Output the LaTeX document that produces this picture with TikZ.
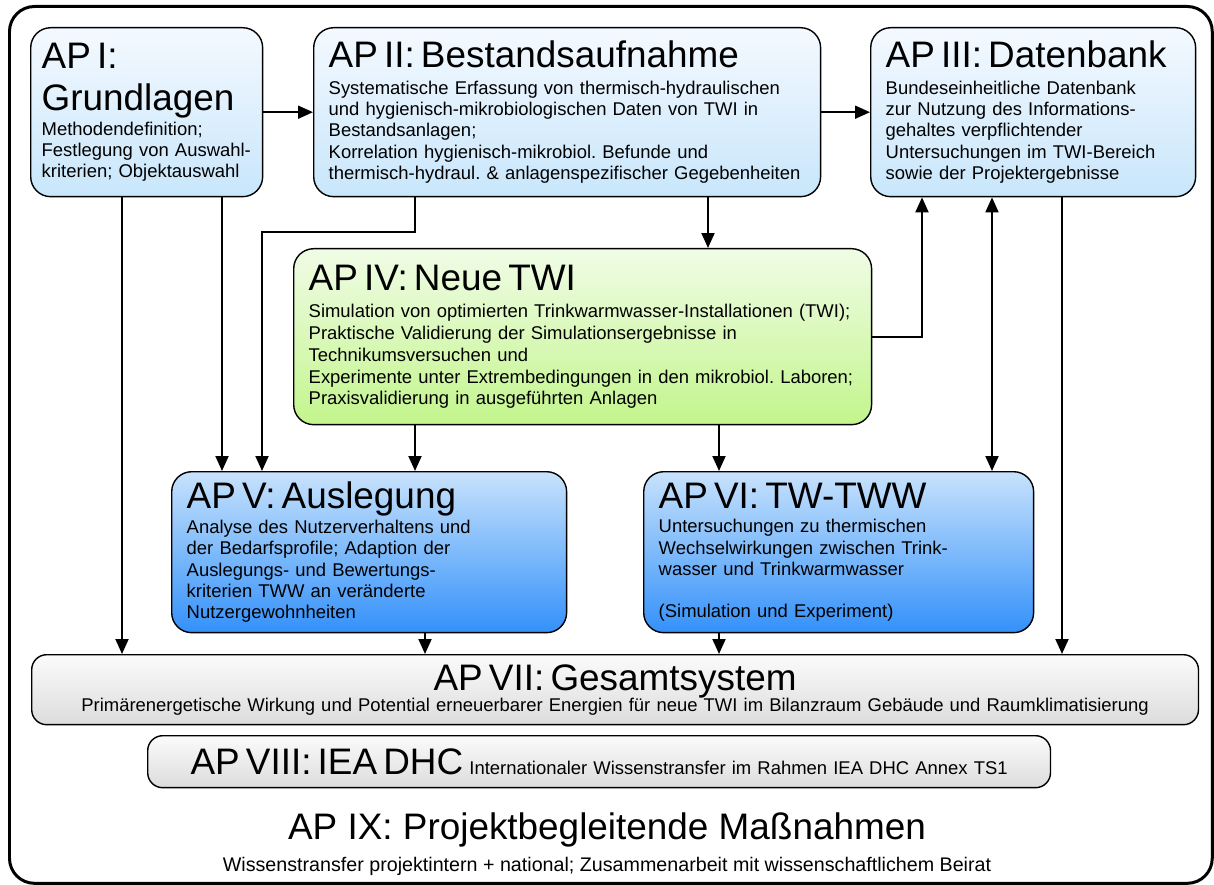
\documentclass[tikz,border=0pt]{standalone}
\usepackage{fontspec}
\setmainfont{Liberation Sans}
\usetikzlibrary{arrows.meta,positioning,calc}
\definecolor{aphelloben}{HTML}{F4F9FF}
\definecolor{aphellunten}{HTML}{C8E6FB}
\definecolor{apblauoben}{HTML}{C8E2FC}
\definecolor{apblauunten}{HTML}{3391FA}
\definecolor{apgruenoben}{HTML}{F0FCE6}
\definecolor{apgruenunten}{HTML}{C3F58C}
\definecolor{apgrauoben}{HTML}{FBFBFB}
\definecolor{apgrauunten}{HTML}{DCDCDC}
\newcommand{\aptitel}{\fontsize{21}{24}\selectfont}
\newcommand{\aptext}{\fontsize{10.5}{12.1}\selectfont}
\frenchspacing
\tikzset{
  ap/.style={draw=black, line width=0.8pt, rounded corners=0.4cm, anchor=north west, align=left, inner xsep=0.3cm, inner ysep=0pt, font=\aptext},
  hell/.style={ap, top color=aphelloben, bottom color=aphellunten},
  blau/.style={ap, top color=apblauoben, bottom color=apblauunten},
  gruen/.style={ap, top color=apgruenoben, bottom color=apgruenunten},
  grau/.style={ap, rounded corners=0.3cm, align=center, top color=apgrauoben, bottom color=apgrauunten},
  rahmen/.style={draw, line width=1.7pt, rounded corners=0.5cm, anchor=north west, inner sep=0pt},
  pfeil/.style={-{Triangle[length=3mm,width=2.6mm]}, line width=1.1pt},
  pfeil2/.style={{Triangle[length=3mm,width=2.6mm]}-{Triangle[length=3mm,width=2.6mm]}, line width=1.1pt},
}
\begin{document}
\begin{tikzpicture}[x=0.02cm, y=-0.02cm]
  \useasboundingbox (0,0) rectangle (1214,885);
  \node[rahmen, minimum width=24.06cm, minimum height=17.54cm] (rahmen) at (8,5) {};
  % obere Reihe
  \node[hell, inner xsep=0.22cm, minimum width=4.64cm, minimum height=3.38cm, text width=4.2cm] (ap1) at (30,27)
    {\aptitel AP I:\\Grundlagen\par\aptext\vspace{2pt}Methodendefinition;\\Festlegung von Auswahl-\\kriterien; Objektauswahl};
  \node[hell, minimum width=10.14cm, minimum height=3.38cm, text width=9.54cm] (ap2) at (313,27)
    {\aptitel AP II: Bestandsaufnahme\par\aptext\vspace{3pt}Systematische Erfassung von thermisch-hydraulischen\\und hygienisch-mikrobiologischen Daten von TWI in\\Bestandsanlagen;\\Korrelation hygienisch-mikrobiol. Befunde und\\thermisch-hydraul. \& anlagenspezifischer Gegebenheiten};
  \node[hell, minimum width=6.5cm, minimum height=3.38cm, text width=5.9cm] (ap3) at (870,27)
    {\aptitel AP III: Datenbank\par\aptext\vspace{3pt}Bundeseinheitliche Datenbank\\zur Nutzung des Informations-\\gehaltes verpflichtender\\Untersuchungen im TWI-Bereich\\sowie der Projektergebnisse};
  % mitte
  \node[gruen, minimum width=11.56cm, minimum height=3.52cm, text width=10.96cm] (ap4) at (293,248)
    {\aptitel AP IV: Neue TWI\par\fontsize{10.5}{12.5}\selectfont\vspace{3pt}Simulation von optimierten Trinkwarmwasser-Installationen (TWI);\\Praktische Validierung der Simulationsergebnisse in\\Technikumsversuchen und\\Experimente unter Extrembedingungen in den mikrobiol. Laboren;\\Praxisvalidierung in ausgeführten Anlagen};
  \node[blau, minimum width=7.9cm, minimum height=3.22cm, text width=7.3cm] (ap5) at (171,471)
    {\aptitel AP V: Auslegung\par\aptext\vspace{2pt}Analyse des Nutzerverhaltens und\\der Bedarfsprofile; Adaption der\\Auslegungs- und Bewertungs-\\kriterien TWW an veränderte\\Nutzergewohnheiten};
  \node[blau, minimum width=7.8cm, minimum height=3.22cm, text width=7.2cm] (ap6) at (643,471)
    {\aptitel AP VI: TW-TWW\par\aptext\vspace{2pt}Untersuchungen zu thermischen\\Wechselwirkungen zwischen Trink-\\wasser und Trinkwarmwasser\\[12pt](Simulation und Experiment)};
  % untere Reihe
  \node[grau, minimum width=23.34cm, minimum height=1.4cm, text width=22.74cm] (ap7) at (31,654)
    {\aptitel AP VII: Gesamtsystem\par\aptext Primärenergetische Wirkung und Potential erneuerbarer Energien für neue TWI im Bilanzraum Gebäude und Raumklimatisierung};
  \node[grau, minimum width=18.06cm, minimum height=1.04cm, text width=17.46cm] (ap8) at (147,735)
    {{\aptitel AP VIII: IEA DHC} Internationaler Wissenstransfer im Rahmen IEA DHC Annex TS1};
  \node[font=\fontsize{21}{24}\selectfont] (ap9) at (607,830) {AP IX: Projektbegleitende Maßnahmen};
  \node[font=\fontsize{11.2}{13}\selectfont] (ap9text) at (607,866) {Wissenstransfer projektintern + national; Zusammenarbeit mit wissenschaftlichem Beirat};
  % Linien
  \coordinate (l1) at (122,0);
  \coordinate (l2) at (222,0);
  \coordinate (knick) at (262,232);
  \coordinate (l4) at (415,0);
  \coordinate (l5) at (708,0);
  \coordinate (l6) at (719,0);
  \coordinate (l7) at (425,0);
  \coordinate (l8) at (922,0);
  \coordinate (l9) at (992,0);
  \coordinate (l10) at (1062,0);
  \draw[pfeil] (ap1) -- (ap2);
  \draw[pfeil] (ap2) -- (ap3);
  \draw[pfeil] (ap1.south -| l1) -- (ap7.north -| l1);
  \draw[pfeil] (ap1.south -| l2) -- (ap5.north -| l2);
  \draw[pfeil] (ap2.south -| l4) |- (knick) -- (ap5.north -| knick);
  \draw[pfeil] (ap2.south -| l5) -- (ap4.north -| l5);
  \draw[pfeil] (ap4.east) -| (ap3.south -| l8);
  \draw[pfeil2] (ap3.south -| l9) -- (ap6.north -| l9);
  \draw[pfeil] (ap3.south -| l10) -- (ap7.north -| l10);
  \draw[pfeil] (ap4.south -| l4) -- (ap5.north -| l4);
  \draw[pfeil] (ap4.south -| l6) -- (ap6.north -| l6);
  \draw[pfeil] (ap5.south -| l7) -- (ap7.north -| l7);
  \draw[pfeil] (ap6.south -| l6) -- (ap7.north -| l6);
\end{tikzpicture}
\end{document}
